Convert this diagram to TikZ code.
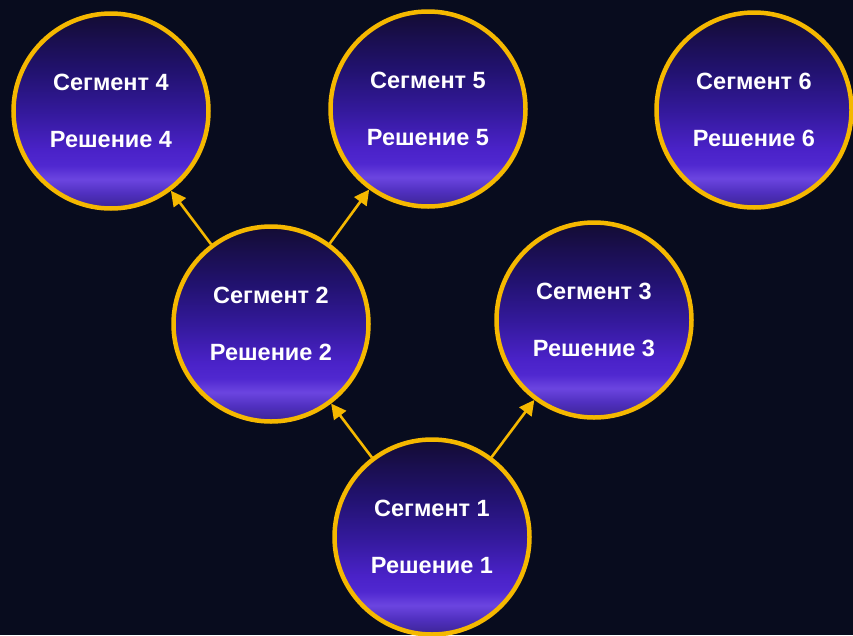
\documentclass[tikz,border=0pt]{standalone}
\usepackage{fontspec}
\setmainfont{Liberation Sans}
\usetikzlibrary{arrows.meta, positioning}

\definecolor{bgnavy}{HTML}{080C1E}
\definecolor{ringgold}{HTML}{F5B800}
\definecolor{shA}{HTML}{3C2494}
\definecolor{shB}{HTML}{5030C0}
\definecolor{shC}{HTML}{6B45E0}
\definecolor{shD}{HTML}{5028D0}
\definecolor{shE}{HTML}{4A22C8}
\definecolor{shF}{HTML}{33199A}
\definecolor{shG}{HTML}{221270}
\definecolor{shH}{HTML}{130C33}

\pgfdeclareverticalshading{segshade}{100bp}{%
  color(0bp)=(shA); color(25bp)=(shA); color(29bp)=(shB);
  color(32.5bp)=(shC); color(36bp)=(shD); color(40bp)=(shE);
  color(50bp)=(shF); color(60bp)=(shG); color(75bp)=(shH);
  color(100bp)=(shH)}

\tikzset{
  segment/.style={circle, draw=ringgold, line width=4.5pt, minimum size=195pt,
    shading=segshade, text=white, align=center,
    font=\bfseries\fontsize{23.5}{57}\selectfont},
  link/.style={color=ringgold, line width=2.6pt,
    -{Triangle[length=15pt,width=15pt]}}
}

\begin{document}
\begin{tikzpicture}[x=1pt, y=1pt]
                    \fill [bgnavy] (0,0) rectangle (853,-635);
                    \useasboundingbox (0,0) rectangle (853,-635);

                    \node (s1) [segment] at (432,-537) {Сегмент 1\\Решение 1};
                    \node (s2) [segment] at (271,-324) {Сегмент 2\\Решение 2};
                    \node (s3) [segment] at (594,-320) {Сегмент 3\\Решение 3};
                    \node (s4) [segment] at (111,-111) {Сегмент 4\\Решение 4};
                    \node (s5) [segment] at (428,-109) {Сегмент 5\\Решение 5};
                    \node (s6) [segment] at (754,-110) {Сегмент 6\\Решение 6};

                    \path [link]
                        (s1) edge (s2)
                        (s1) edge (s3)
                        (s2) edge (s4)
                        (s2) edge (s5);
                \end{tikzpicture}
\end{document}
